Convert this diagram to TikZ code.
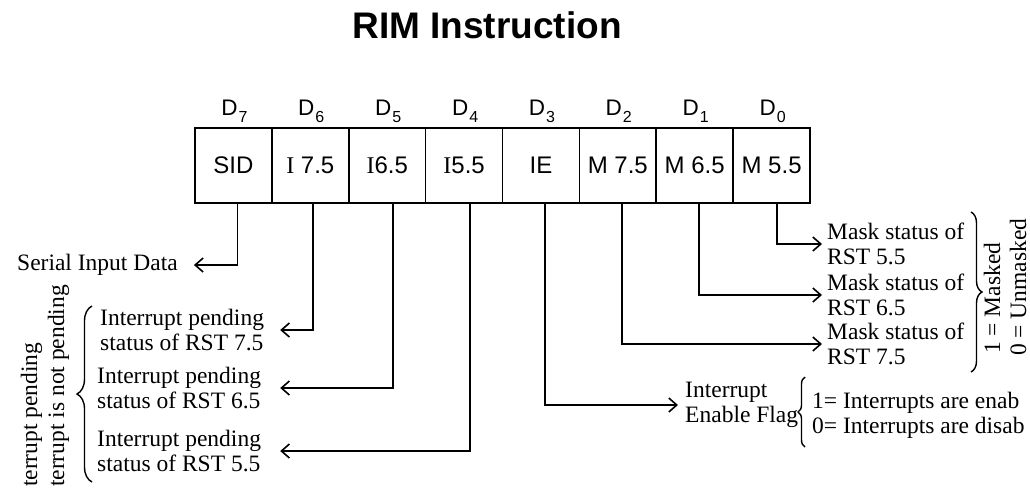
\documentclass[tikz,border=0pt]{standalone}
\usepackage{fontspec}
\setmainfont{Liberation Serif}
\setsansfont{Liberation Sans}
\usepackage{xcolor}
\usepackage{tikz}
\usetikzlibrary{positioning, arrows.meta, decorations.pathreplacing}

\newcommand{\bitno}[1]{D\kern1pt\raisebox{-7pt}{\fontsize{16}{16}\selectfont #1}}

\begin{document}
\begin{tikzpicture}[x=1pt, y=-1pt,
  cell/.style={draw, line width=1.6pt, minimum width=76.9pt, minimum height=75pt,
    inner sep=0pt, font=\sffamily\fontsize{24}{24}\selectfont},
  bitlbl/.style={anchor=base, inner sep=0pt, font=\sffamily\fontsize{22.5}{22.5}\selectfont},
  note/.style={anchor=west, inner sep=0pt, align=left, font=\fontsize{23.5}{25}\selectfont},
  sidenote/.style={rotate=90, anchor=base west, inner sep=0pt, font=\fontsize{23.5}{25}\selectfont},
  sig/.style={line width=1.8pt, -{Straight Barb[length=8pt,width=14pt,line width=1.6pt]}},
  grp/.style={decorate, decoration={brace, amplitude=#1}, line width=1.4pt}
]
  \useasboundingbox (0,0) rectangle (1030,488);

  \node (title) at (487,25) {\sffamily\bfseries\fontsize{37}{37}\selectfont RIM Instruction};

  % Register bits
  \node (b7) [cell] at (233.4,165.5) {SID};
  \node (b6) [cell] at (310.3,165.5) {{\rmfamily I} 7.5};
  \node (b5) [cell] at (387.2,165.5) {{\rmfamily I}6.5};
  \node (b4) [cell] at (464.1,165.5) {{\rmfamily I}5.5};
  \node (b3) [cell] at (541.0,165.5) {IE};
  \node (b2) [cell] at (617.8,165.5) {M 7.5};
  \node (b1) [cell] at (694.7,165.5) {M 6.5};
  \node (b0) [cell] at (771.6,165.5) {M 5.5};

  \node (d7) [bitlbl] at (234.4,115) {\bitno{7}};
  \node (d6) [bitlbl] at (311.3,115) {\bitno{6}};
  \node (d5) [bitlbl] at (388.2,115) {\bitno{5}};
  \node (d4) [bitlbl] at (465.1,115) {\bitno{4}};
  \node (d3) [bitlbl] at (542.0,115) {\bitno{3}};
  \node (d2) [bitlbl] at (618.8,115) {\bitno{2}};
  \node (d1) [bitlbl] at (695.7,115) {\bitno{1}};
  \node (d0) [bitlbl] at (772.6,115) {\bitno{0}};

  % Left side
  \node (sid) [note] at (17,265) {Serial Input Data};
  \node (int7) [note] at (100,330) {Interrupt pending\\status of RST 7.5};
  \node (int6) [note] at (97,388) {Interrupt pending\\status of RST 6.5};
  \node (int5) [note] at (97,451) {Interrupt pending\\status of RST 5.5};
  \node (pend1) [sidenote] at (37,487) {terrupt pending};
  \node (pend0) [sidenote] at (64,487) {terrupt is not pending};
  \draw[grp=15pt] (92,482) -- (92,306);

  % Right side
  \node (mask5) [note] at (827,244) {Mask status of\\RST 5.5};
  \node (mask6) [note] at (827,295) {Mask status of\\RST 6.5};
  \node (mask7) [note] at (827,344) {Mask status of\\RST 7.5};
  \node (msk1) [sidenote] at (1000,354) {1 = Masked};
  \node (msk0) [sidenote] at (1026,356) {0 = Unmasked};
  \draw[grp=11pt] (971,212) -- (971,372);

  \node (ief) [note] at (685,405) {Interrupt\\Enable Flag};
  \node (ieval) [note] at (812,415) {1= Interrupts are enab\\0= Interrupts are disab};
  \draw[grp=7pt] (805,447) -- (805,377);

  % Connectors
  \draw[sig] ([xshift=4pt]b7.south) |- ([xshift=16pt]sid.east);
  \draw[sig] ([xshift=3pt]b6.south) |- ([xshift=16pt]int7.east);
  \draw[sig] ([xshift=6pt]b5.south) |- ([xshift=19pt]int6.east);
  \draw[sig] ([xshift=6pt]b4.south) |- ([xshift=19pt]int5.east);
  \draw[sig] ([xshift=4pt]b3.south) |- ([xshift=-7pt]ief.west);
  \draw[sig] ([xshift=4pt]b2.south) |- ([xshift=-5pt]mask7.west);
  \draw[sig] ([xshift=4pt]b1.south) |- ([xshift=-5pt]mask6.west);
  \draw[sig] ([xshift=5pt]b0.south) |- ([xshift=-5pt]mask5.west);
\end{tikzpicture}
\end{document}
